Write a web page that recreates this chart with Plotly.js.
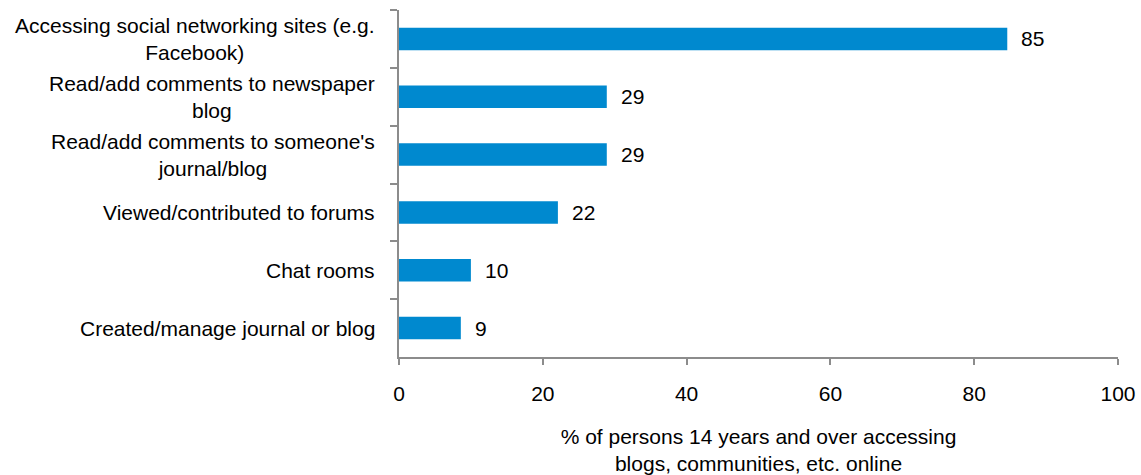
<!DOCTYPE html>
<html>
<head>
<meta charset="utf-8">
<script src="https://cdn.plot.ly/plotly-3.0.1.min.js"></script>
<style>html,body{margin:0;padding:0;background:#fff;}#chart{width:1141px;height:475px;}</style>
</head>
<body>
<div id="chart"></div>
<script>
const categories = [
  "Accessing social networking sites (e.g.<br>Facebook)",
  "Read/add comments to newspaper<br>blog",
  "Read/add comments to someone's<br>journal/blog",
  "Viewed/contributed to forums",
  "Chat rooms",
  "Created/manage journal or blog"
];
const values = [84.6, 28.9, 28.9, 22.1, 10.0, 8.6];
const valueLabels = ["85", "29", "29", "22", "10", "9"];
const xTicks = [0, 20, 40, 60, 80, 100];
const xTitle = "% of persons 14 years and over accessing<br>blogs, communities, etc. online";

const font = {family: "Liberation Sans, Arial, sans-serif", size: 21, color: "#000"};
const axisColor = "#8c8c8c";

const trace = {
  type: "bar",
  orientation: "h",
  x: values,
  y: categories,
  width: 0.39,
  marker: {color: "#0089cf"},
  hoverinfo: "none"
};

const annotations = [];
categories.forEach((c, i) => {
  annotations.push({
    xref: "paper", yref: "y", x: 0, y: c, xanchor: "right", yanchor: "middle",
    xshift: -22, text: c, showarrow: false, align: "center", font: font
  });
  annotations.push({
    xref: "x", yref: "y", x: values[i], y: c, xanchor: "left", yanchor: "middle",
    xshift: 12, text: valueLabels[i], showarrow: false, font: font
  });
});

const layout = {
  width: 1141, height: 475,
  margin: {l: 399, r: 23, t: 10, b: 118},
  paper_bgcolor: "#fff", plot_bgcolor: "#fff",
  font: font,
  showlegend: false,
  xaxis: {
    range: [0, 100], tickvals: xTicks, ticktext: xTicks.map(String),
    showgrid: false, zeroline: false, showline: true, linecolor: axisColor, linewidth: 2,
    ticks: "outside", ticklen: 6, tickwidth: 2, tickcolor: axisColor,
    ticklabelstandoff: 11,
    title: {text: xTitle, font: font, standoff: 27},
    fixedrange: true
  },
  yaxis: {
    type: "category", autorange: "reversed",
    showticklabels: false, showgrid: false, zeroline: false,
    showline: true, linecolor: axisColor, linewidth: 2,
    ticks: "outside", tickson: "boundaries", ticklen: 7, tickwidth: 2, tickcolor: axisColor,
    fixedrange: true
  },
  annotations: annotations
};

Plotly.newPlot("chart", [trace], layout, {displayModeBar: false, staticPlot: true});
</script>
</body>
</html>
